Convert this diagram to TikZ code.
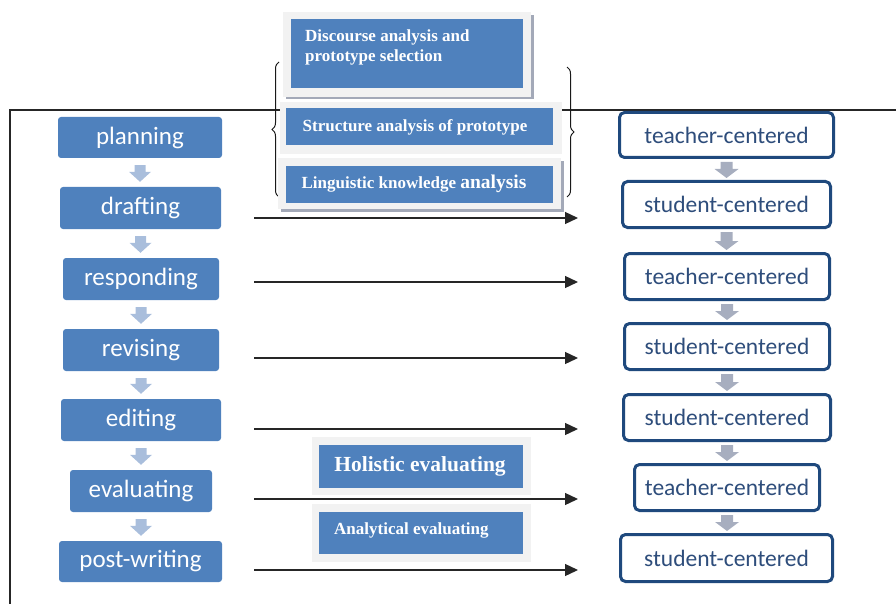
\documentclass[tikz,border=0pt]{standalone}
\usepackage{fontspec}
\setmainfont{Liberation Serif}
\newfontfamily\calfont{Carlito}
\usetikzlibrary{calc,arrows.meta,decorations.pathreplacing}
\definecolor{bl}{HTML}{4F81BD}
\definecolor{larr}{HTML}{A9BEDC}
\definecolor{dk}{HTML}{1F497D}
\definecolor{rtxt}{HTML}{2E4D7B}
\definecolor{rarr}{HTML}{A7AEBF}
\definecolor{panel}{HTML}{F2F2F2}
\definecolor{shad}{HTML}{A3A9B8}
\newcommand{\leftarr}[2]{%
  \fill[larr] ($(#1.south)+(-5.5,7)$) -- ($(#1.south)+(5.5,7)$) --
    ($(#2.north -| #1.south)+(5.5,-15)$) -- ($(#2.north -| #1.south)+(11,-15)$) --
    ($(#2.north -| #1.south)+(0,-5)$) -- ($(#2.north -| #1.south)+(-11,-15)$) --
    ($(#2.north -| #1.south)+(-5.5,-15)$) -- cycle;}
\newcommand{\rightarr}[2]{%
  \fill[rarr] ($(#1.south)+(-6,3)$) -- ($(#1.south)+(6,3)$) --
    ($(#2.north -| #1.south)+(6,-11)$) -- ($(#2.north -| #1.south)+(12,-11)$) --
    ($(#2.north -| #1.south)+(0,-2)$) -- ($(#2.north -| #1.south)+(-12,-11)$) --
    ($(#2.north -| #1.south)+(-6,-11)$) -- cycle;}
\begin{document}
\begin{tikzpicture}[x=1pt,y=-1pt,
  lbox/.style={fill=bl, rounded corners=3pt, text=white,
    font=\calfont\fontsize{25}{28}\selectfont, inner sep=0pt, minimum height=41pt},
  rbox/.style={draw=dk, line width=3pt, fill=white, rounded corners=5pt, text=rtxt,
    font=\calfont\fontsize{23.5}{26}\selectfont, inner sep=0pt},
  bbox/.style={fill=bl, inner sep=0pt},
  btext/.style={text=white, inner sep=0pt, font=\bfseries},
  harr/.style={line width=1.3pt, draw=black!85, -{Triangle[length=13pt,width=12pt]}},
  brc/.style={draw=black!90, line width=1pt, decorate, decoration={brace, amplitude=7pt}}
]
\useasboundingbox (0,0) rectangle (896,604);
% frame
\draw[line width=1.2pt, black!85] (10,604) -- (10,110) -- (896,110);

% left column
\node[lbox, minimum width=164pt] (plan) at (140,137.5) {planning};
\node[lbox, minimum width=161pt, minimum height=42pt] (draft) at (140.5,208) {drafting};
\node[lbox, minimum width=156pt, minimum height=42pt] (resp) at (141,279) {responding};
\node[lbox, minimum width=156pt, minimum height=42pt] (revi) at (141,350) {revising};
\node[lbox, minimum width=160pt, minimum height=42pt] (edit) at (141,420) {editing};
\node[lbox, minimum width=142pt, minimum height=42pt] (eval) at (141,491) {evaluating};
\node[lbox, minimum width=163pt] (post) at (140.5,561.5) {post-writing};
\leftarr{plan}{draft}
\leftarr{draft}{resp}
\leftarr{resp}{revi}
\leftarr{revi}{edit}
\leftarr{edit}{eval}
\leftarr{eval}{post}

% right column
\node[rbox, minimum width=214pt, minimum height=45pt] (r1) at (726.5,135) {teacher-centered};
\node[rbox, minimum width=208pt, minimum height=46pt] (r2) at (726.5,204.5) {student-centered};
\node[rbox, minimum width=205pt, minimum height=46pt] (r3) at (727,276.5) {teacher-centered};
\node[rbox, minimum width=205pt, minimum height=46pt] (r4) at (727,346.5) {student-centered};
\node[rbox, minimum width=207pt, minimum height=46pt] (r5) at (727,417.5) {student-centered};
\node[rbox, minimum width=185pt, minimum height=46pt] (r6) at (727,487.5) {teacher-centered};
\node[rbox, minimum width=212pt, minimum height=47pt] (r7) at (726.5,558) {student-centered};
\rightarr{r1}{r2}
\rightarr{r2}{r3}
\rightarr{r3}{r4}
\rightarr{r4}{r5}
\rightarr{r5}{r6}
\rightarr{r6}{r7}

% braces
\draw[brc] (279,197) -- (279,62);
\draw[brc] (567,67) -- (567,197);

% top middle panels
\fill[shad] (286,15) rectangle (534,99);
\fill[panel] (283,12) rectangle (531,97);
\node[bbox, minimum width=232pt, minimum height=69pt] (disc) at (407,53.5) {};
\node[btext, anchor=north west, align=left, font=\bfseries\fontsize{17}{20}\selectfont] (disct) at (305,30) {Discourse analysis and\\prototype selection};

\fill[panel] (280,102) rectangle (562,154);
\node[bbox, minimum width=267pt, minimum height=37pt] (struc) at (419.5,126.5) {};
\node[btext, font=\bfseries\fontsize{17}{20}\selectfont] (struct) at (415,127) {Structure analysis of prototype};

\fill[shad] (281,161) rectangle (564,212);
\fill[panel] (278,158) rectangle (561,209);
\node[bbox, minimum width=267pt, minimum height=37pt] (ling) at (419.5,184.5) {};
\node[btext, font=\bfseries\fontsize{17}{20}\selectfont] (lingt) at (414,184) {Linguistic knowledge {\fontsize{19.5}{20}\selectfont analysis}};

% bottom middle panels
\fill[panel] (312,437) rectangle (531,495);
\node[bbox, minimum width=204pt, minimum height=43pt] (holi) at (421,466.5) {};
\node[btext, font=\bfseries\fontsize{21.5}{24}\selectfont] (holit) at (420,466) {Holistic evaluating};

\fill[panel] (312,504) rectangle (531,562);
\node[bbox, minimum width=204pt, minimum height=42pt] (anal) at (421,533) {};
\node[btext, anchor=west, font=\bfseries\fontsize{17}{20}\selectfont] (analt) at (334,530) {Analytical evaluating};

% horizontal arrows
\coordinate (s1) at (254,218); \coordinate (e1) at (578,218);
\coordinate (s2) at (254,282); \coordinate (e2) at (578,282);
\coordinate (s3) at (254,358); \coordinate (e3) at (578,358);
\coordinate (s4) at (254,429); \coordinate (e4) at (578,429);
\coordinate (s5) at (254,499); \coordinate (e5) at (578,499);
\coordinate (s6) at (254,570); \coordinate (e6) at (578,570);
\foreach \i in {1,...,6} {\draw[harr] (s\i) -- (e\i);}
\end{tikzpicture}
\end{document}
